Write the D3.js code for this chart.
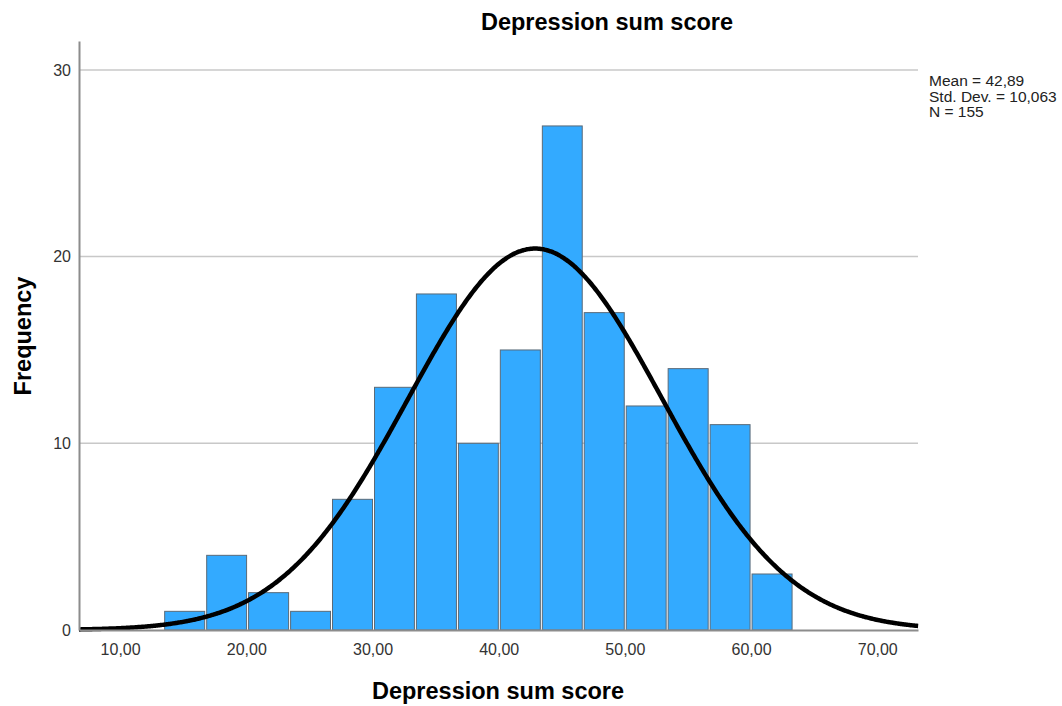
<!DOCTYPE html>
<html lang="en">
  <head>
    <meta charset="utf-8" />
    <title>Depression sum score</title>
    <style>
      body { margin: 0; background: #fff; }
      text { font-family: "Liberation Sans", Arial, sans-serif; }
    </style>
  </head>
  <body>
    <svg id="viz"></svg>
    <script src="https://cdnjs.cloudflare.com/ajax/libs/d3/7.8.5/d3.min.js"></script>
    <script>
        // histogram data
        var binEdges = [13.45, 16.78, 20.10, 23.43, 26.75, 30.08, 33.40, 36.73, 40.05, 43.38, 46.70, 50.03, 53.35, 56.68, 60.00, 63.33];
        var counts = [1, 4, 2, 1, 7, 13, 18, 10, 15, 27, 17, 12, 14, 11, 3];
        var xTicks = [10, 20, 30, 40, 50, 60, 70];
        var yTicks = [0, 10, 20, 30];
        var mean = 42.89, sd = 10.063, n = 155;
        var statLines = ["Mean = 42,89", "Std. Dev. = 10,063", "N = 155"];

        var width = 1062, height = 706;
        var plotLeft = 79, plotRight = 918, plotTop = 41, plotBottom = 630;

        var svg = d3.select("#viz")
            .attr("width", width)
            .attr("height", height);

        var x = d3.scaleLinear().domain([6.74, 73.23]).range([plotLeft, plotRight]);
        var y = d3.scaleLinear().domain([0, 31.55]).range([plotBottom, plotTop]);

        // gridlines
        svg.append("g").selectAll("line")
            .data(yTicks.filter(function(d) { return d > 0; }))
            .enter().append("line")
            .attr("x1", plotLeft).attr("x2", plotRight)
            .attr("y1", function(d) { return y(d); })
            .attr("y2", function(d) { return y(d); })
            .attr("stroke", "#c8c8c8")
            .attr("stroke-width", 1.5);

        // bars
        var bins = counts.map(function(c, i) { return {x0: binEdges[i], x1: binEdges[i + 1], n: c}; });
        svg.append("g").selectAll("rect")
            .data(bins)
            .enter().append("rect")
            .attr("x", function(d) { return x(d.x0) + 1; })
            .attr("width", function(d) { return x(d.x1) - x(d.x0) - 2; })
            .attr("y", function(d) { return y(d.n); })
            .attr("height", function(d) { return y(0) - y(d.n); })
            .attr("fill", "#33aaff")
            .attr("stroke", "#5a6a78")
            .attr("stroke-width", 1);

        // normal curve
        var binWidth = (binEdges[binEdges.length - 1] - binEdges[0]) / counts.length;
        var curveX = d3.range(x.domain()[0], x.domain()[1] + 0.01, 0.1);
        var line = d3.line()
            .x(function(d) { return x(d); })
            .y(function(d) {
                var z = (d - mean) / sd;
                return y(n * binWidth * Math.exp(-0.5 * z * z) / (sd * Math.sqrt(2 * Math.PI)));
            })
            .curve(d3.curveBasis);
        svg.append("path")
            .datum(curveX)
            .attr("d", line)
            .attr("fill", "none")
            .attr("stroke", "#000")
            .attr("stroke-width", 4.5);

        // axes
        var xAxis = svg.append("g")
            .attr("transform", "translate(0," + plotBottom + ")")
            .call(d3.axisBottom(x).tickValues(xTicks).tickSize(0).tickPadding(14)
                .tickFormat(function(d) { return d3.format(".2f")(d).replace(".", ","); }));
        var yAxis = svg.append("g")
            .attr("transform", "translate(" + plotLeft + ",0)")
            .call(d3.axisLeft(y).tickValues(yTicks).tickSize(0).tickPadding(8));
        [xAxis, yAxis].forEach(function(a) {
            a.select(".domain").attr("stroke", "#8c8c8c").attr("stroke-width", 2);
            a.selectAll("text")
                .attr("fill", "#333")
                .style("font-size", "16px")
                .style("font-family", "'Liberation Sans', Arial, sans-serif");
        });

        // titles
        svg.append("text")
            .attr("x", 607).attr("y", 30)
            .attr("text-anchor", "middle")
            .style("font-size", "23.5px").style("font-weight", "bold")
            .text("Depression sum score");
        svg.append("text")
            .attr("x", 498).attr("y", 699)
            .attr("text-anchor", "middle")
            .style("font-size", "23.5px").style("font-weight", "bold")
            .text("Depression sum score");
        svg.append("text")
            .attr("transform", "translate(31,336) rotate(-90)")
            .attr("text-anchor", "middle")
            .style("font-size", "23.5px").style("font-weight", "bold")
            .text("Frequency");

        // stats box
        svg.append("g").selectAll("text")
            .data(statLines)
            .enter().append("text")
            .attr("x", 929)
            .attr("y", function(d, i) { return 86 + i * 15.5; })
            .attr("fill", "#222")
            .style("font-size", "15.5px")
            .text(function(d) { return d; });
    </script>
  </body>
</html>
